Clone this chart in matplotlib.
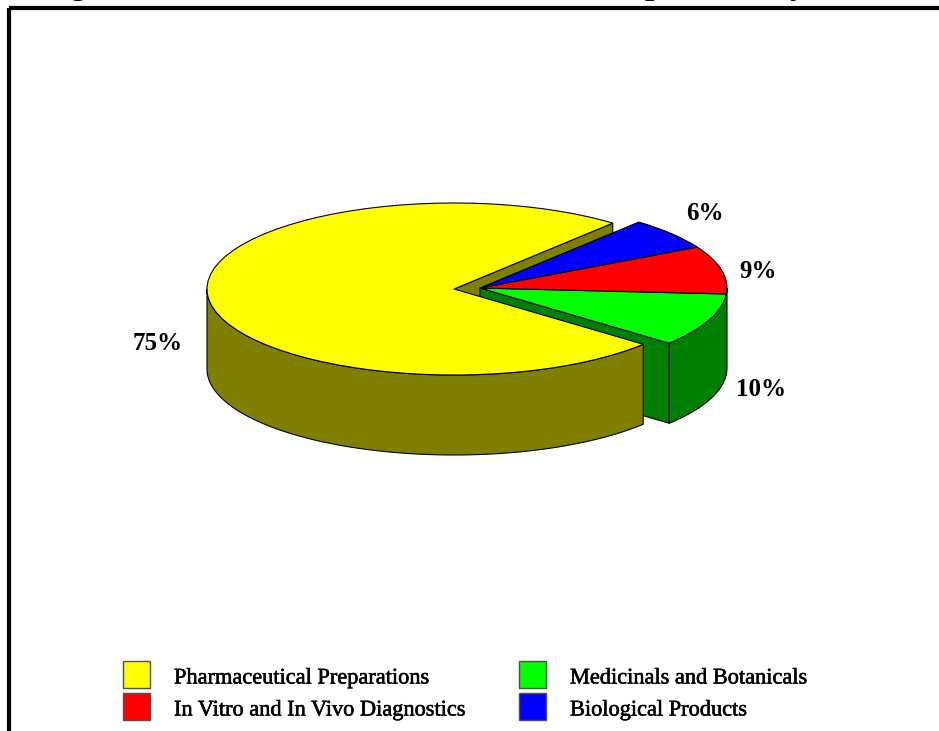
import numpy as np
import matplotlib
matplotlib.use("Agg")
import matplotlib.pyplot as plt
import matplotlib.patheffects as pe
from matplotlib.patches import Polygon, Rectangle, Wedge
from matplotlib.transforms import Affine2D

categories = ["Pharmaceutical Preparations", "Medicinals and Botanicals", "In Vitro and In Vivo Diagnostics", "Biological Products"]
shares = [75, 10, 9, 6]
top_colors = ["#ffff00", "#00ff00", "#ff0000", "#0000ff"]
side_colors = ["#808000", "#008000", "#800000", "#000080"]
label_pos = [(158, 343), (761, 390), (758, 272), (705, 214)]
legend_order = [0, 2, 1, 3]
# the title is cropped by the picture, only these descenders show
title_bits = [("g", 78), ("p", 654), ("y", 798)]

RX, RY, DEPTH = 247, 86, 80
MAIN = (454, 289)
OUT = (480, 288)
START = -40.0  # green slice starts here, anticlockwise


def point(center, t, drop=0):
    t = np.radians(t)
    return np.column_stack([center[0] + RX * np.cos(t), center[1] - RY * np.sin(t) + drop])


def top_slice(ax, center, t1, t2, color):
    tr = Affine2D().scale(RX, -RY).translate(*center) + ax.transData
    ax.add_patch(Wedge((0, 0), 1, t1, t2, transform=tr, fc=color, ec="black", lw=0.8))


def outer_wall(ax, center, t1, t2, color):
    t = np.linspace(t1, t2, 80)
    pts = np.vstack([point(center, t), point(center, t[::-1], DEPTH)])
    ax.add_patch(Polygon(pts, closed=True, fc=color, ec="black", lw=0.8))


def cut_wall(ax, center, t, color):
    edge = point(center, np.array([t]))[0]
    pts = [center, edge, (edge[0], edge[1] + DEPTH), (center[0], center[1] + DEPTH)]
    ax.add_patch(Polygon(pts, closed=True, fc=color, ec="black", lw=0.8))


fig = plt.figure(figsize=(9.39, 7.31), dpi=100)
ax = fig.add_axes([0, 0, 1, 1])
ax.set_xlim(0, 939)
ax.set_ylim(731, 0)
ax.axis("off")

sweeps = np.array(shares) * 3.6
big_start = START + sweeps[1:].sum()
big_end = START + 360

# back to front so the pie hides itself
cut_wall(ax, MAIN, big_start, side_colors[0])
cut_wall(ax, OUT, START, side_colors[1])
t = START
for i in range(1, 4):
    top_slice(ax, OUT, t, t + sweeps[i], top_colors[i])
    t += sweeps[i]
outer_wall(ax, OUT, START, 0, side_colors[1])
outer_wall(ax, MAIN, 180, big_end, side_colors[0])
top_slice(ax, MAIN, big_start, big_end, top_colors[0])

for share, (x, y) in zip(shares, label_pos):
    ax.text(x, y, f"{share}%", ha="center", va="center", family="Liberation Serif",
            fontweight="bold", fontsize=18, color="black")

# legend, two columns
heavier = [pe.withStroke(linewidth=0.4, foreground="black")]
for n, i in enumerate(legend_order):
    x0 = 123 if n < 2 else 519
    y0 = 661 if n % 2 == 0 else 693
    ax.add_patch(Rectangle((x0, y0), 27, 27, fc=top_colors[i], ec="#505050", lw=1.0))
    ax.text(x0 + 51, y0 + 18, categories[i], ha="left", va="center", family="Liberation Serif",
            fontsize=16.1, color="black", path_effects=heavier)

for letter, x in title_bits:
    ax.text(x, -6, letter, ha="center", va="baseline", family="Liberation Serif",
            fontweight="bold", fontsize=24, color="black")

# frame runs off the top and right of the picture
ax.add_patch(Rectangle((9, 8), 960, 760, fc="none", ec="black", lw=3.0))

fig.savefig("out.png", dpi=100)
